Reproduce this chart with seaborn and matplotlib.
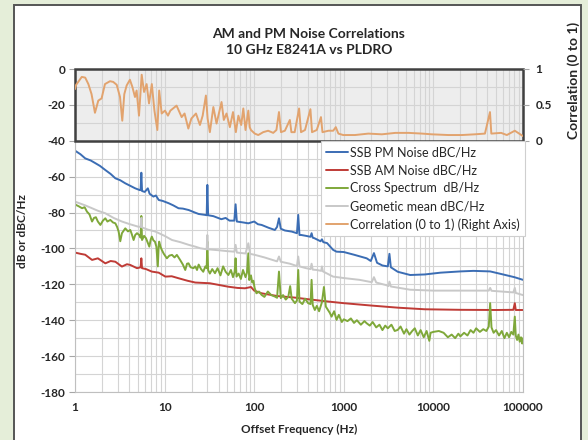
import numpy as np
import pandas as pd
import matplotlib
matplotlib.use("Agg")
import matplotlib.pyplot as plt
from matplotlib.patches import Rectangle
from matplotlib.ticker import FixedLocator, NullFormatter
import seaborn as sns

# ---------------- data ----------------
pm_freq = [1.0, 1.15, 1.3, 1.5, 1.69, 1.9, 2.18, 2.5, 2.82, 3.2, 3.64, 4.1, 4.7, 5.3,
           5.4, 5.5, 5.6, 6.0, 6.5, 6.8, 7.5, 8.0, 8.6, 9.5, 11.1, 12.5, 14.3, 16, 18.6,
           21.8, 24, 28.3, 29.5, 30, 30.6, 35, 43, 48, 53, 60, 62, 64, 75, 86, 100, 110,
           121, 145, 170, 180, 189, 198, 220, 262, 300, 310, 320, 335, 380, 425, 437, 450,
           470, 550, 570, 590, 650, 760, 830, 1000, 1300, 1800, 2000, 2170, 2350, 2700,
           3100, 3230, 3350, 4000, 5500, 8000, 12000, 20000, 28000, 43000, 60000, 80000,
           100000]
pm_db = [-45.5, -47.5, -49.8, -51, -52.5, -54, -56.3, -58.5, -60.9, -62, -63.7, -65, -66.5,
         -67.5, -67.5, -57.8, -68, -68.5, -66.5, -69.5, -71.1, -70.5, -73, -73.5, -74.8, -76,
         -77.6, -77.8, -78.6, -80, -80.8, -81.3, -81.5, -64.6, -81.5, -82, -83.7, -83, -84.5,
         -84.5, -75.4, -85, -85.5, -86, -85, -86.5, -86.9, -88.5, -89.7, -88, -83.2, -89,
         -90, -90.6, -91.5, -81.3, -92.5, -92.5, -93, -93.5, -91.5, -94, -94.3, -96, -94.9,
         -96.5, -97, -100.8, -101.8, -102, -103.5, -105.5, -107, -102.6, -108, -109.5,
         -110, -103, -110.5, -113, -114.8, -114.5, -113.5, -112.8, -112.5, -112.8, -114.5,
         -116, -117.5]

am_freq = [1.0, 1.15, 1.3, 1.55, 1.8, 2.18, 2.5, 2.82, 3.34, 3.8, 4.14, 4.92, 5.4, 5.5,
           5.6, 6.2, 7.2, 8.6, 10.2, 12, 14.3, 18, 22, 32, 40, 51, 65, 79, 92, 100, 121,
           180, 285, 430, 673, 1000, 2000, 4000, 8000, 20000, 50000, 78000, 81000, 83000,
           100000]
am_db = [-102.3, -103, -103.5, -106.4, -105.5, -108.3, -107, -107.4, -110.1, -108.8, -109.2,
         -111, -110.5, -105.5, -111, -111.5, -112.9, -113.5, -115.7, -115.5, -116.6, -118,
         -119, -119.4, -120.3, -121.3, -122, -122.2, -121.5, -123.5, -125, -126.5, -127.4,
         -128.5, -129.6, -130.5, -131.8, -133, -133.9, -134.2, -134.3, -134.2, -130.5,
         -134.3, -134.3]

cross_freq = [1.0, 1.03, 1.1, 1.2, 1.28, 1.36, 1.45, 1.55, 1.63, 1.71, 1.8, 1.92, 2.05,
              2.18, 2.3, 2.48, 2.65, 2.82, 2.95, 3.07, 3.2, 3.34, 3.5, 3.64, 3.9, 4.14, 4.3,
              4.51, 4.7, 4.92, 5.2, 5.4, 5.5, 5.6, 5.9, 6.2, 6.5, 6.75, 7.0, 7.2, 7.5, 7.8,
              8.1, 8.4, 8.6, 8.7, 9.0, 9.3, 9.8, 10.6, 11.3, 12.1, 12.9, 13.7, 14.9, 16, 17,
              17.8, 18.5, 19.5, 21, 22, 23, 24, 25.5, 27, 28.5, 29.5, 30, 30.6, 32, 34, 36.5,
              39, 42, 45, 48, 51.5, 55, 58, 60.5, 62, 63.5, 67, 71, 75, 80, 83, 86, 88, 92,
              95, 98, 101, 106, 113, 121, 130, 142, 155, 170, 180, 189, 198, 210, 225, 240,
              252, 262, 285, 300, 310, 320, 345, 370, 400, 425, 437, 450, 475, 500, 530, 570,
              600, 630, 700, 730, 780, 830, 880, 950, 1000, 1100, 1200, 1300, 1400, 1550,
              1700, 1800, 1950, 2100, 2300, 2500, 2700, 2900, 3100, 3400, 3700, 4000, 4300,
              4700, 5000, 5400, 5800, 6200, 6700, 7200, 7800, 8400, 9000, 9300, 10000, 11500,
              13000, 14500, 16000, 17500, 19000, 20000, 22000, 24000, 26000, 28000, 30000,
              33000, 36000, 39000, 41500, 43000, 44500, 47000, 50000, 54000, 58000, 62000,
              66000, 70000, 74000, 78000, 81000, 83000, 86000, 89000, 92000, 95000, 98000,
              100000]
cross_db = [-75.2, -75.8, -76.5, -77.6, -77, -79.5, -81, -85, -83, -82.6, -85, -86.9, -84.5,
            -83.2, -85, -84.1, -85.5, -86, -88, -90.6, -96, -91.5, -90, -88.8, -90.5, -89.7,
            -92, -95.3, -92.5, -91.5, -92.5, -94, -81.9, -95.3, -93, -94.3, -97, -99, -95,
            -93.4, -95.5, -96.2, -99, -110, -98, -96.2, -99, -100.8, -103, -105.5, -104,
            -103.6, -105, -103.6, -106.4, -109, -112, -108.5, -108.3, -110.5, -111, -110,
            -112, -109, -111.5, -113, -110, -111, -96.2, -112, -114, -111.5, -113.8, -111,
            -115, -110, -113, -114.8, -112, -116, -113, -105.5, -115.7, -114, -117, -112,
            -116, -113.5, -102.7, -117.6, -115, -119, -118, -122, -125, -124, -125.9, -127,
            -124, -126, -126.8, -127.5, -112.9, -127.7, -126, -128.5, -127, -121, -128,
            -130.5, -129, -112, -129.6, -131, -128, -130.5, -131, -117.5, -131.5, -134.3,
            -132, -135, -130, -121.5, -132.4, -136, -138, -135, -139.8, -137, -141, -139.5,
            -140.5, -139, -141.5, -140, -142.5, -140.5, -141.7, -143, -141, -144, -142.5,
            -145.5, -143, -144.5, -142.5, -146, -145.4, -143.5, -147.5, -145, -148, -146,
            -144.5, -148.5, -145.5, -149.5, -146, -151.5, -147, -146.5, -146, -147, -149.5,
            -148, -150, -147.5, -149, -147, -148.5, -145.5, -147, -144.5, -146.5, -145, -146,
            -143.5, -130.5, -144, -147, -145.5, -148.5, -146, -150, -147, -149.5, -146.5,
            -148, -138, -148.5, -151, -148, -152, -149.5, -153, -150]

geo_freq = [1.0, 1.3, 1.55, 1.8, 2.18, 2.7, 3.34, 4.1, 5.1, 5.4, 5.5, 5.6, 6.5, 7.9, 10,
            12.1, 15, 18.6, 22, 25, 29.5, 30, 30.6, 40, 50, 60, 62, 64, 80, 86, 90, 102, 130,
            180, 189, 198, 250, 300, 310, 320, 380, 425, 437, 450, 500, 560, 570, 585, 760,
            1000, 1500, 2050, 2170, 2300, 3000, 3150, 3230, 3350, 5500, 10000, 20000, 41500,
            43000, 44500, 78000, 81000, 83000, 100000]
geo_db = [-73.9, -76, -77.6, -79, -80.4, -83, -85, -86.5, -87.9, -88, -83, -88.3, -89.5,
          -90.6, -93, -95.3, -96.5, -98, -99, -99.9, -100.5, -92.5, -100.5, -101, -101.5,
          -101.8, -98, -102.3, -102.8, -97.1, -103, -103.6, -105, -107.2, -104.5, -107.4,
          -108.5, -109.8, -104.5, -110, -111, -111.5, -108.5, -111.8, -112, -112.5, -110,
          -112.8, -115.7, -116.5, -117.5, -118.8, -116, -119, -120.5, -121, -118.5, -121.2,
          -123, -123.5, -123.5, -123.5, -122, -123.6, -124.5, -122, -124.8, -126]

corr_freq = [1.0, 1.03, 1.19, 1.3, 1.41, 1.53, 1.67, 1.82, 1.98, 2.16, 2.46, 2.67, 2.92,
             3.18, 3.37, 3.55, 3.77, 4.1, 4.37, 4.67, 4.87, 5.18, 5.55, 5.9, 6.3, 6.7, 7.2,
             7.7, 8.3, 8.7, 9.28, 10.1, 10.9, 11.6, 13.6, 15.5, 16.7, 18.4, 19.9, 22.4, 24.8,
             26.6, 28.9, 30.2, 32, 35, 38, 43.2, 45.8, 49.1, 53.5, 58, 62.4, 66.6, 71.6, 75.6,
             80, 86, 89, 92, 101.5, 111, 126, 143, 163, 177, 189, 199, 220, 250, 260, 283,
             317, 333, 369, 424, 442, 499, 556, 578, 673, 762, 814, 870, 985, 1330, 1880,
             2660, 3760, 5300, 7500, 9600, 14700, 20800, 29000, 37600, 42800, 44300, 57000,
             66000, 81000, 100000]
corr_val = [0.72, 0.78, 0.89, 0.88, 0.79, 0.65, 0.39, 0.56, 0.59, 0.79, 0.83, 0.82, 0.78,
            0.61, 0.28, 0.65, 0.77, 0.85, 0.75, 0.61, 0.70, 0.35, 0.92, 0.68, 0.79, 0.52,
            0.79, 0.42, 0.15, 0.70, 0.38, 0.42, 0.35, 0.42, 0.49, 0.33, 0.38, 0.17, 0.31,
            0.38, 0.22, 0.35, 0.63, 0.31, 0.12, 0.47, 0.24, 0.54, 0.29, 0.38, 0.19, 0.40,
            0.12, 0.35, 0.22, 0.45, 0.15, 0.42, 0.19, 0.15, 0.10, 0.08, 0.12, 0.14, 0.11,
            0.15, 0.40, 0.12, 0.14, 0.29, 0.12, 0.12, 0.45, 0.12, 0.15, 0.44, 0.12, 0.15,
            0.33, 0.12, 0.14, 0.14, 0.19, 0.10, 0.08, 0.08, 0.10, 0.09, 0.11, 0.11, 0.10,
            0.09, 0.08, 0.08, 0.09, 0.10, 0.40, 0.10, 0.11, 0.08, 0.14, 0.065]

series = [
    ("SSB PM Noise dBC/Hz", pm_freq, pm_db, "#3b6db4"),
    ("SSB AM Noise dBC/Hz", am_freq, am_db, "#bf3b36"),
    ("Cross Spectrum  dB/Hz", cross_freq, cross_db, "#7fa83a"),
    ("Geometic mean dBC/Hz", geo_freq, geo_db, "#c8c8c8"),
]
corr_label = "Correlation (0 to 1) (Right Axis)"
corr_color = "#e2a36e"

x_ticks = [1, 10, 100, 1000, 10000, 100000]
x_ticklabels = ["1", "10", "100", "1000", "10000", "100000"]
y_ticks = list(range(-180, 1, 20))

# ---------------- style ----------------
sns.set_style("white")
plt.rcParams["font.family"] = ["Lato", "DejaVu Sans"]

W, H = 588, 440
fig = plt.figure(figsize=(W / 100, H / 100), dpi=100)
fig.patch.set_facecolor("#e5eed9")
fig.patches.append(Rectangle((13.5 / W, -0.02), (581 - 13.5) / W, 1.02 - 5.5 / H,
                             transform=fig.transFigure, facecolor="white",
                             edgecolor="#555555", linewidth=1.4, zorder=-10))

L, R, T, B = 75, 523, 69, 392
ax = fig.add_axes([L / W, 1 - B / H, (R - L) / W, (B - T) / H])
ax.set_facecolor("none")
ax.set_xscale("log")
ax.set_xlim(1, 100000)
ax.set_ylim(-180, 0)

# shaded correlation region
ax.axhspan(-40, 0, facecolor="#ededed", edgecolor="none", zorder=0.1)
ax.axhspan(-40, 0, facecolor="none", edgecolor="#404040", linewidth=1.8, zorder=3,
           clip_on=False)

for label, f, v, c in series:
    df = pd.DataFrame({"f": f, "v": v})
    sns.lineplot(data=df, x="f", y="v", ax=ax, color=c, linewidth=1.4, label=label,
                 estimator=None, sort=False)
if ax.get_legend() is not None:
    ax.get_legend().remove()

# right axis for correlation
ax2 = ax.twinx()
cdf = pd.DataFrame({"f": corr_freq, "c": corr_val})
sns.lineplot(data=cdf, x="f", y="c", ax=ax2, color=corr_color, linewidth=1.4,
             label=corr_label, estimator=None, sort=False)
if ax2.get_legend() is not None:
    ax2.get_legend().remove()
ax2.set_ylim(1 - 180 / 40, 1)
ax.set_xscale("log")
ax.set_xlim(1, 100000)

# ticks / grid (set after all plotting so nothing resets them)
ax.set_xticks(x_ticks, x_ticklabels, fontweight="bold")
minors = [m * 10 ** d for d in range(0, 5) for m in range(2, 10)]
ax.xaxis.set_minor_locator(FixedLocator(minors))
ax.xaxis.set_minor_formatter(NullFormatter())
ax.set_yticks(y_ticks, [str(v) for v in y_ticks], fontweight="bold")
ax.yaxis.set_minor_locator(FixedLocator(list(range(-170, 0, 20))))
ax.set_axisbelow(True)
ax.grid(True, which="both", axis="both", color="#d4d4d4", linewidth=0.8)
ax.tick_params(axis="both", which="minor", length=0)
ax.tick_params(axis="both", which="major", length=4, color="#a6a6a6", width=0.8,
               labelsize=8.5, pad=3)
for s in ["left", "bottom", "right"]:
    ax.spines[s].set_color("#bfbfbf")
    ax.spines[s].set_linewidth(0.8)
ax.spines["top"].set_visible(False)

ax.set_xlabel("Offset Frequency (Hz)", fontsize=8.5, fontweight="bold")
ax.xaxis.set_label_coords(0.5, -0.099)
ax.set_ylabel("dB or dBC/Hz", fontsize=8.5, fontweight="bold")
ax.yaxis.set_label_coords(-0.104, 0.5)

ax2.set_yticks([0, 0.5, 1], ["0", "0.5", "1"], fontweight="bold")
ax2.tick_params(axis="y", length=4, color="#a6a6a6", width=0.8, labelsize=8.5, pad=5)
for s in ax2.spines.values():
    s.set_visible(False)
ax2.set_xlabel("")
ax2.set_ylabel("")
fig.text(574 / W, 1 - 80 / H, "Correlation (0 to 1)", rotation=90, ha="center",
         va="center", fontsize=10, fontweight="bold")

h1, l1 = ax.get_legend_handles_labels()
h2, l2 = ax2.get_legend_handles_labels()
leg = ax2.legend(h1 + h2, l1 + l2, loc="upper right", bbox_to_anchor=(1.004, 0.777),
                 fontsize=9, frameon=True, fancybox=False, framealpha=1,
                 edgecolor="#cfcfcf", handlelength=1.7, handletextpad=0.2,
                 borderpad=0.4, labelspacing=0.48, borderaxespad=0)
leg.get_frame().set_linewidth(0.8)

fig.text(309 / W, 1 - 42 / H, "AM and PM Noise Correlations\n10 GHz E8241A vs PLDRO",
         ha="center", va="center", fontsize=10, fontweight="bold", linespacing=1.35)

fig.savefig("out.png", dpi=100, facecolor=fig.get_facecolor())
